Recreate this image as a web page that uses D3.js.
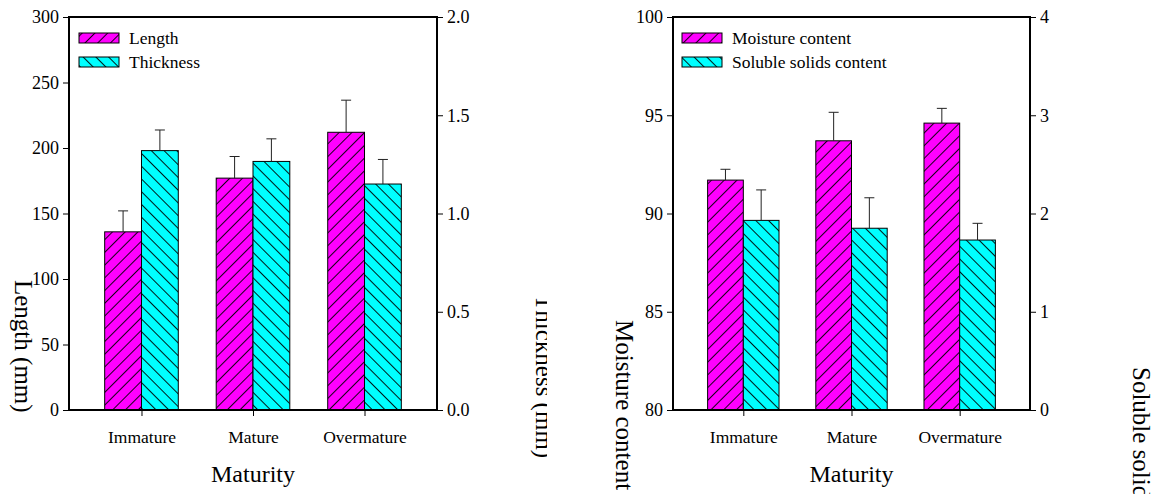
<!DOCTYPE html>
<html>
<head>
<meta charset="utf-8">
<script src="https://cdn.jsdelivr.net/npm/d3@7"></script>
<style>
  html, body { margin: 0; padding: 0; background: #fff; }
  svg { display: block; }
  text { font-family: "Liberation Serif", "Times New Roman", serif; fill: #000; }
</style>
</head>
<body>
<svg id="chart" width="1152" height="494"></svg>
<script>
// Maturity groups shared by both panels
const categories = ["Immature", "Mature", "Overmature"];

// Panel A: fruit length (left axis) and thickness (right axis), mean and SD
const lengthMean = [136, 177, 212];
const lengthSD = [16, 16.5, 24.5];
const thicknessMean = [1.32, 1.265, 1.15];
const thicknessSD = [0.105, 0.115, 0.125];
const lengthTicks = [0, 50, 100, 150, 200, 250, 300];
const thicknessTicks = [0, 0.5, 1.0, 1.5, 2.0];

// Panel B: moisture content (left axis) and soluble solids (right axis)
const moistureMean = [91.7, 93.7, 94.6];
const moistureSD = [0.55, 1.45, 0.75];
const solidsMean = [1.93, 1.85, 1.73];
const solidsSD = [0.31, 0.31, 0.17];
const moistureTicks = [80, 85, 90, 95, 100];
const solidsTicks = [0, 1, 2, 3, 4];

const svg = d3.select("#chart");
const defs = svg.append("defs");

// Hatched fills: magenta with "/" lines, cyan with "\" lines
function hatch(id, color, angle) {
  const s = 9;
  const p = defs.append("pattern")
    .attr("id", id)
    .attr("patternUnits", "userSpaceOnUse")
    .attr("width", s).attr("height", s)
    .attr("patternTransform", `rotate(${angle})`);
  p.append("rect").attr("width", s).attr("height", s).attr("fill", color);
  p.append("line").attr("x1", 0.5).attr("y1", 0).attr("x2", 0.5).attr("y2", s)
    .attr("stroke", "#000").attr("stroke-width", 0.9);
}
hatch("hatchMagenta", "#ff00ff", 45);
hatch("hatchCyan", "#00ffff", -45);

defs.append("clipPath").attr("id", "clipA")
  .append("rect").attr("x", 0).attr("y", 0).attr("width", 547).attr("height", 494);

function panel(opt) {
  const g = svg.append("g");
  if (opt.clip) g.attr("clip-path", `url(#${opt.clip})`);
  const top = 17, bottom = 410;

  const x = d3.scalePoint().domain(categories).range([opt.x0, opt.x1]).padding(0.65);
  const bw = x.step() * 0.33;
  const yL = d3.scaleLinear().domain(opt.leftDomain).range([bottom, top]);
  const yR = d3.scaleLinear().domain(opt.rightDomain).range([bottom, top]);

  // bars
  const series = [
    { mean: opt.leftMean, sd: opt.leftSD, y: yL, fill: "url(#hatchMagenta)", off: -bw },
    { mean: opt.rightMean, sd: opt.rightSD, y: yR, fill: "url(#hatchCyan)", off: 0 }
  ];
  series.forEach(s => {
    const data = categories.map((c, i) => ({ c, v: s.mean[i], e: s.sd[i] }));
    g.append("g").selectAll("rect").data(data).join("rect")
      .attr("x", d => x(d.c) + s.off)
      .attr("y", d => s.y(d.v))
      .attr("width", bw)
      .attr("height", d => s.y(s.y.domain()[0]) - s.y(d.v))
      .attr("fill", s.fill)
      .attr("stroke", "#000").attr("stroke-width", 1);
    const eb = g.append("g").attr("stroke", "#222").attr("stroke-width", 1);
    eb.selectAll("line.v").data(data).join("line").attr("class", "v")
      .attr("x1", d => x(d.c) + s.off + bw / 2).attr("x2", d => x(d.c) + s.off + bw / 2)
      .attr("y1", d => s.y(d.v)).attr("y2", d => s.y(d.v + d.e));
    eb.selectAll("line.h").data(data).join("line").attr("class", "h")
      .attr("x1", d => x(d.c) + s.off + bw / 2 - 5).attr("x2", d => x(d.c) + s.off + bw / 2 + 5)
      .attr("y1", d => s.y(d.v + d.e)).attr("y2", d => s.y(d.v + d.e));
  });

  // axes
  const axL = g.append("g").attr("transform", `translate(${opt.x0},0)`)
    .call(d3.axisLeft(yL).tickValues(opt.leftTicks).tickSize(6).tickPadding(4).tickFormat(d3.format("d")));
  const axR = g.append("g").attr("transform", `translate(${opt.x1},0)`)
    .call(d3.axisRight(yR).tickValues(opt.rightTicks).tickSize(6).tickPadding(4).tickFormat(d3.format(opt.rightFormat)));
  const axB = g.append("g").attr("transform", `translate(0,${bottom})`)
    .call(d3.axisBottom(x).tickSize(6).tickPadding(15));
  [axL, axR, axB].forEach(a => {
    a.select(".domain").remove();
    a.selectAll(".tick line").attr("stroke", "#000").attr("stroke-width", 1);
    a.selectAll("text").style("font-family", "Liberation Serif, Times New Roman, serif");
  });
  axL.selectAll("text").style("font-size", "18px");
  axR.selectAll("text").style("font-size", "18px");
  axB.selectAll("text").style("font-size", "17.5px");

  // frame
  g.append("rect")
    .attr("x", opt.x0).attr("y", top)
    .attr("width", opt.x1 - opt.x0).attr("height", bottom - top)
    .attr("fill", "none").attr("stroke", "#000").attr("stroke-width", 2);

  // legend
  const lg = g.append("g");
  const items = [
    { label: opt.leftName, fill: "url(#hatchMagenta)", y: 33 },
    { label: opt.rightName, fill: "url(#hatchCyan)", y: 57 }
  ];
  items.forEach(it => {
    lg.append("rect").attr("x", opt.x0 + opt.legendDx).attr("y", it.y)
      .attr("width", 40).attr("height", 10)
      .attr("fill", it.fill).attr("stroke", "#000").attr("stroke-width", 1);
    lg.append("text").attr("x", opt.x0 + opt.legendDx + 50).attr("y", it.y + 10.5)
      .style("font-size", "17.5px").text(it.label);
  });

  // axis titles
  g.append("text")
    .attr("x", (opt.x0 + opt.x1) / 2).attr("y", 482)
    .attr("text-anchor", "middle").style("font-size", "24px").text("Maturity");
  g.append("text")
    .attr("transform", `translate(${opt.leftTitleX},${opt.leftTitleY}) rotate(90)`)
    .style("font-size", "25px").text(opt.leftTitle);
  g.append("text")
    .attr("transform", `translate(${opt.rightTitleX},${opt.rightTitleY}) rotate(90)`)
    .style("font-size", "25px").text(opt.rightTitle);
}

panel({
  clip: "clipA",
  x0: 69, x1: 437,
  leftDomain: [0, 300], rightDomain: [0, 2],
  leftMean: lengthMean, leftSD: lengthSD,
  rightMean: thicknessMean, rightSD: thicknessSD,
  leftTicks: lengthTicks, rightTicks: thicknessTicks, rightFormat: ".1f",
  leftName: "Length", rightName: "Thickness", legendDx: 10,
  leftTitle: "Length (mm)", leftTitleX: 15, leftTitleY: 280,
  rightTitle: "Thickness (mm)", rightTitleX: 536, rightTitleY: 295
});

panel({
  x0: 673, x1: 1030,
  leftDomain: [80, 100], rightDomain: [0, 4],
  leftMean: moistureMean, leftSD: moistureSD,
  rightMean: solidsMean, rightSD: solidsSD,
  leftTicks: moistureTicks, rightTicks: solidsTicks, rightFormat: "d",
  leftName: "Moisture content", rightName: "Soluble solids content", legendDx: 9,
  leftTitle: "Moisture content", leftTitleX: 616, leftTitleY: 320,
  rightTitle: "Soluble solids content", rightTitleX: 1133, rightTitleY: 367
});
</script>
</body>
</html>
